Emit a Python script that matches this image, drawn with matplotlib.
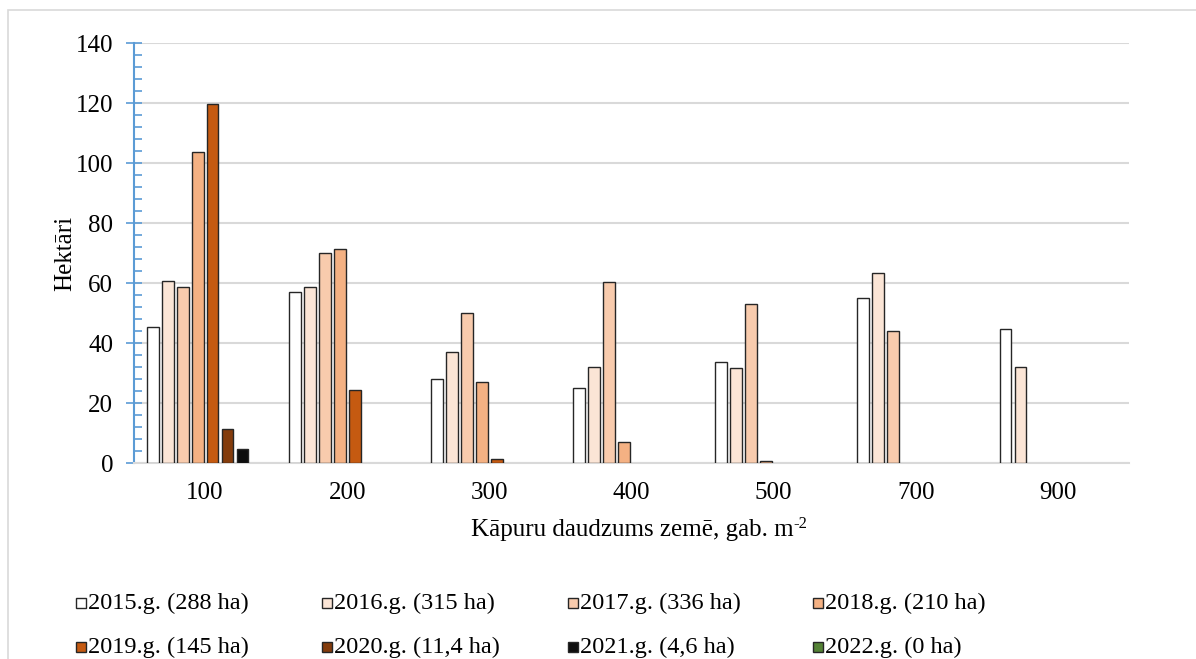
import numpy as np
import matplotlib.pyplot as plt
from matplotlib.patches import Rectangle
from matplotlib.ticker import MultipleLocator

plt.rcParams['font.family'] = ['Liberation Serif', 'DejaVu Serif']

categories = ['100', '200', '300', '400', '500', '700', '900']
series = ['2015.g. (288 ha)', '2016.g. (315 ha)', '2017.g. (336 ha)', '2018.g. (210 ha)',
          '2019.g. (145 ha)', '2020.g. (11,4 ha)', '2021.g. (4,6 ha)', '2022.g. (0 ha)']
v2015 = [45.3, 56.9, 27.9, 25.1, 33.8, 55.1, 44.7]
v2016 = [60.6, 58.7, 37.1, 32.0, 31.6, 63.3, 32.1]
v2017 = [58.6, 70.1, 50.1, 60.2, 53.0, 44.1, 0]
v2018 = [103.8, 71.4, 26.9, 6.9, 0.7, 0, 0]
v2019 = [119.6, 24.2, 1.2, 0, 0, 0, 0]
v2020 = [11.4, 0, 0, 0, 0, 0, 0]
v2021 = [4.6, 0, 0, 0, 0, 0, 0]
v2022 = [0, 0, 0, 0, 0, 0, 0]
values = [v2015, v2016, v2017, v2018, v2019, v2020, v2021, v2022]
colors = ['#FFFFFF', '#FBE5D6', '#F8CBAD', '#F4B183', '#C55A11', '#843C0C', '#0D0D0D', '#548235']

W, H = 1196, 659
fig = plt.figure(figsize=(W / 100, H / 100), dpi=100)
ax = fig.add_axes([0.112, 0.2974, 0.832, 0.6373])

# chart area border (light grey)
fig.patches.append(Rectangle((8 / W, -0.1), 1.2, 1 - 10 / H + 0.1, transform=fig.transFigure,
                             fill=False, edgecolor='#D9D9D9', lw=1.2))

x = np.arange(len(categories))
step = 0.1054
width = 0.084
for i, (vals, col) in enumerate(zip(values, colors)):
    pos = x - 3.5 * step + i * step
    vals = np.array(vals, dtype=float)
    mask = vals > 0
    ax.bar(pos[mask], vals[mask], width=width, color=col, edgecolor='#262626', lw=1.0, zorder=3)

ax.set_xlim(-0.5, len(categories) - 0.5)
ax.set_ylim(0, 140)
ax.set_xticks(x)
ax.set_xticklabels(categories, fontsize=18)
ax.tick_params(axis='x', length=0, pad=14)

ax.yaxis.set_major_locator(MultipleLocator(20))
ax.yaxis.set_minor_locator(MultipleLocator(4))
ax.tick_params(axis='y', which='major', direction='inout', length=12, width=1.2,
               color='#5B9BD5', labelsize=18, pad=9)
ax.tick_params(axis='y', which='minor', direction='in', length=6, width=1.2, color='#5B9BD5')

ax.grid(axis='y', color='#D9D9D9', lw=1.5, zorder=0)
ax.set_axisbelow(True)
for s in ['top', 'right']:
    ax.spines[s].set_visible(False)
ax.spines['left'].set_color('#5B9BD5')
ax.spines['left'].set_linewidth(1.5)
ax.spines['bottom'].set_color('#D9D9D9')
ax.spines['bottom'].set_linewidth(1.5)

fig.text(65 / W, 1 - 253 / H, 'Hektāri', fontsize=18, rotation=90, ha='center', va='center')
xl = fig.text(632 / W, 1 - 530 / H, 'Kāpuru daudzums zemē, gab. m', fontsize=18,
              ha='center', va='center')
ax.annotate('-2', xy=(1, 0.42), xycoords=xl, fontsize=12, ha='left', va='bottom')

# legend, row by row like the original
leg_x = [76, 322, 568, 813]
leg_y = [603, 647]
for i, (lab, col) in enumerate(zip(series, colors)):
    lx = leg_x[i % 4]
    ly = leg_y[i // 4]
    fig.patches.append(Rectangle((lx / W, (H - ly - 5) / H), 10 / W, 10 / H,
                                 transform=fig.transFigure, facecolor=col,
                                 edgecolor='#262626', lw=1.0))
    fig.text((lx + 12) / W, 1 - ly / H, lab, fontsize=17.5, ha='left', va='center')

fig.savefig('out.png', dpi=100)
